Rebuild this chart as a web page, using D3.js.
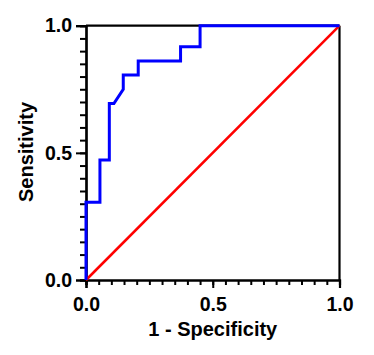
<!DOCTYPE html>
<html><head><meta charset="utf-8">
<script src="https://cdn.jsdelivr.net/npm/d3@7"></script>
<style>body{margin:0;background:#fff}svg{display:block}text{font-family:"Liberation Sans",Arial,sans-serif;font-weight:bold}</style>
</head><body><svg id="c" width="374" height="355"></svg>
<script>
const rocFpr  = [0, 0, 0.055, 0.055, 0.092, 0.092, 0.11, 0.147, 0.147, 0.206, 0.206, 0.373, 0.373, 0.45, 0.45, 1];
const rocTpr  = [0, 0.306, 0.306, 0.472, 0.472, 0.694, 0.694, 0.75, 0.806, 0.806, 0.861, 0.861, 0.917, 0.917, 1, 1];
const refLine = [0, 1];
const majorTicks = [0, 0.5, 1];
const minorTicks = d3.range(0, 21).map(i => i / 20);
const xTitle = "1 - Specificity";
const yTitle = "Sensitivity";

const svg = d3.select("#c");
const L = 86, R = 339.5, T = 25.7, B = 280;
const x = d3.scaleLinear().domain([0, 1]).range([L, R]);
const y = d3.scaleLinear().domain([0, 1]).range([B, T]);

// frame top/right
svg.append("line").attr("x1", x(0)).attr("x2", x(1)).attr("y1", y(1)).attr("y2", y(1)).attr("stroke", "#000").attr("stroke-width", 2.2);
svg.append("line").attr("x1", x(1)).attr("x2", x(1)).attr("y1", y(0)).attr("y2", y(1)).attr("stroke", "#000").attr("stroke-width", 2.2);

function styleAxis(g) {
  g.select(".domain").attr("stroke", "#000").attr("stroke-width", 2.2);
  g.selectAll(".tick line").attr("stroke", "#000").attr("stroke-width", 2);
  g.selectAll("text").attr("font-size", 19.5).attr("fill", "#000")
    .attr("font-family", "Liberation Sans, Arial, sans-serif").attr("font-weight", "bold");
}
// minor ticks
const xMinor = svg.append("g").attr("transform", `translate(0,${B})`)
  .call(d3.axisBottom(x).tickValues(minorTicks).tickSize(5).tickFormat(""));
styleAxis(xMinor);
const yMinor = svg.append("g").attr("transform", `translate(${L},0)`)
  .call(d3.axisLeft(y).tickValues(minorTicks).tickSize(6).tickFormat(""));
styleAxis(yMinor);
// major ticks
const xMajor = svg.append("g").attr("transform", `translate(0,${B})`)
  .call(d3.axisBottom(x).tickValues(majorTicks).tickSize(8).tickPadding(9).tickFormat(d3.format(".1f")));
styleAxis(xMajor);
const yMajor = svg.append("g").attr("transform", `translate(${L},0)`)
  .call(d3.axisLeft(y).tickValues(majorTicks).tickSize(10).tickPadding(4).tickFormat(d3.format(".1f")));
styleAxis(yMajor);

// reference diagonal
svg.append("path").datum(refLine)
  .attr("d", d3.line().x(d => x(d)).y(d => y(d)))
  .attr("fill", "none").attr("stroke", "#ff0000").attr("stroke-width", 2.5);

// ROC curve
const pts = rocFpr.map((f, i) => [f, rocTpr[i]]);
svg.append("path").datum(pts)
  .attr("d", d3.line().x(d => x(d[0])).y(d => y(d[1])))
  .attr("fill", "none").attr("stroke", "#0000ff").attr("stroke-width", 3).attr("stroke-linejoin", "miter");

// titles
svg.append("text").attr("x", (L + R) / 2).attr("y", 336).attr("text-anchor", "middle")
  .attr("font-size", 20).attr("fill", "#000").text(xTitle);
svg.append("text").attr("transform", `translate(33,152) rotate(-90)`).attr("text-anchor", "middle")
  .attr("font-size", 20).attr("fill", "#000").text(yTitle);
</script></body></html>
